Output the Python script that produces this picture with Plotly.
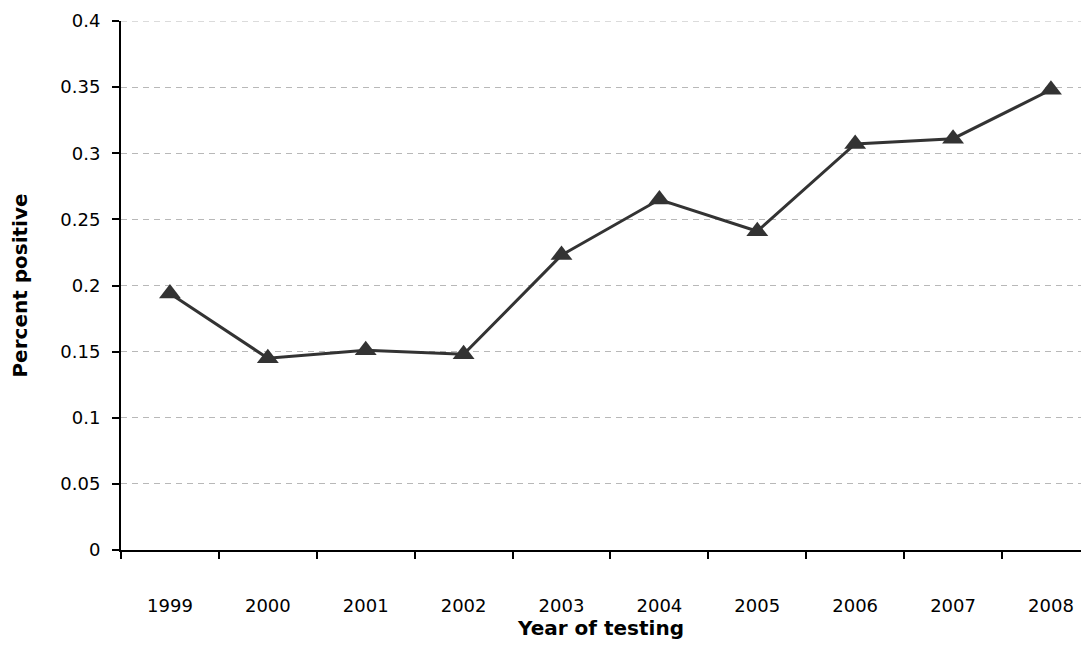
import plotly.graph_objects as go

years = ["1999", "2000", "2001", "2002", "2003", "2004", "2005", "2006", "2007", "2008"]
percent_positive = [0.194, 0.145, 0.151, 0.148, 0.223, 0.265, 0.241, 0.307, 0.311, 0.348]
y_ticks = [0, 0.05, 0.1, 0.15, 0.2, 0.25, 0.3, 0.35, 0.4]
y_tick_text = ["0", "0.05", "0.1", "0.15", "0.2", "0.25", "0.3", "0.35", "0.4"]

fig = go.Figure()
fig.add_trace(go.Scatter(
    x=years, y=percent_positive, mode="lines+markers",
    line=dict(color="#333333", width=3),
    marker=dict(symbol="triangle-up", size=19, color="#333333"),
    showlegend=False,
))

tick_font = dict(family="DejaVu Sans", size=18, color="#000000")
title_font = dict(family="DejaVu Sans", size=20, color="#000000")

# top gridline at the range edge (Plotly omits it at the border)
fig.add_shape(type="line", xref="paper", yref="y", x0=0, x1=1,
              y0=y_ticks[-1], y1=y_ticks[-1], layer="below",
              line=dict(color="#b8b8b8", width=1, dash="6px,5px"))

fig.update_layout(
    width=1073, height=632,
    margin=dict(l=113, r=0, t=13, b=90),
    paper_bgcolor="white", plot_bgcolor="white",
    xaxis=dict(
        type="category", range=[-0.5, 9.307], tickson="boundaries",
        showline=True, linecolor="#000000", linewidth=2,
        ticks="outside", ticklen=7, tickwidth=2, tickcolor="#000000",
        showgrid=False, tickfont=tick_font, ticklabelstandoff=38,
        title=dict(text="<b>Year of testing</b>", font=title_font, standoff=18),
        automargin=False,
    ),
    yaxis=dict(
        range=[0, 0.4], tickvals=y_ticks, ticktext=y_tick_text,
        showline=True, linecolor="#000000", linewidth=2,
        ticks="outside", ticklen=7, tickwidth=2, tickcolor="#000000",
        showgrid=True, gridcolor="#b8b8b8", gridwidth=1, griddash="6px,5px",
        zeroline=False, tickfont=tick_font, ticklabelstandoff=8,
        title=dict(text="<b>Percent positive</b>", font=title_font, standoff=31),
        automargin=False,
    ),
)

fig.write_html("out.html")
